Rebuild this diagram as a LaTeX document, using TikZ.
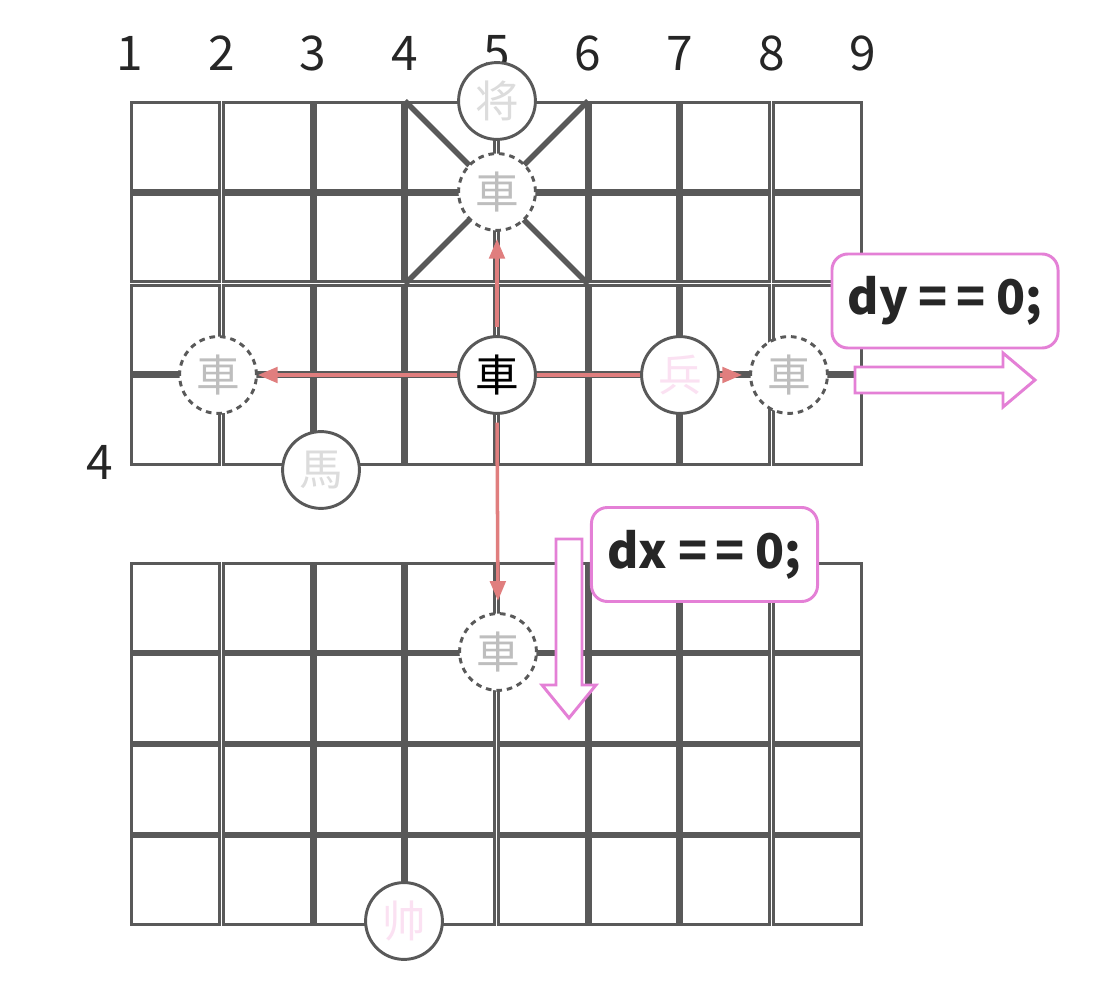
\documentclass[tikz,border=0pt]{standalone}
\usepackage{fontspec}
\setmainfont{Noto Sans CJK SC}
\usetikzlibrary{arrows.meta}
\definecolor{Grid}{HTML}{595959}
\definecolor{Salmon}{HTML}{E07E7E}
\definecolor{Orchid}{HTML}{E480D6}
\definecolor{Ink}{HTML}{262626}
\definecolor{Ghost}{HTML}{BEBEBE}
\definecolor{Faint}{HTML}{DCDCDC}
\definecolor{Blush}{HTML}{FBE1F2}

\begin{document}
\begin{tikzpicture}[x=0.025cm,y=-0.025cm,cell/.style={draw=Grid,fill=white,line width=2.3pt},num/.style={font=\fontsize{34}{38}\selectfont,text=Ink},piece/.style={circle,draw=Grid,fill=white,line width=2.1pt,minimum size=1.92cm,inner sep=0pt,font=\fontsize{31}{34}\selectfont},ghost/.style={piece,dash pattern=on 4pt off 3.5pt,text=Ghost},move/.style={draw=Salmon,line width=2.5pt,-{Triangle[length=14pt,width=11pt]}},note/.style={draw=Orchid,fill=white,line width=2.1pt,rounded corners=0.4cm,minimum width=5.65cm,minimum height=2.35cm,font=\fontsize{34}{38}\selectfont\bfseries,text=Ink},hollow/.style={draw=Orchid,fill=white,line width=2.1pt,line join=miter}]
\useasboundingbox (0,0) rectangle (1120,983);
\fill[white] (0,0) rectangle (1120,983);
\foreach \c in {0,...,7}{\foreach \r in {0,...,3}{\draw[cell] ({130+91.625*\c+1.8},{101+91.25*\r+1.8}) rectangle ({130+91.625*(\c+1)-1.8},{101+91.25*(\r+1)-1.8});\draw[cell] ({130+91.625*\c+1.8},{562+91*\r+1.8}) rectangle ({130+91.625*(\c+1)-1.8},{562+91*(\r+1)-1.8});}}
\draw[Grid,line width=4pt] (405,101) -- (588,284) (588,101) -- (405,284);
\foreach \n in {1,...,9}{\node[num] (col\n) at ({130+91.625*(\n-1)},53){\n};}
\node[num] (row4) at (100,462){4};
\node[piece,text=Faint] (jiang) at (497,101){将};
\node[ghost] (upche) at (497,192){車};
\node[piece,text=black] (che) at (497,375){車};
\node[ghost] (leftche) at (218,375){車};
\node[piece,text=Blush] (bing) at (680,375){兵};
\node[ghost] (rightche) at (789,375){車};
\node[piece,text=Faint] (ma) at (321,470){馬};
\node[ghost] (downche) at (498,652){車};
\node[piece,text=Blush] (shuai) at (404,921){帅};
\draw[move,shorten <=5.5pt,shorten >=5pt] (che.north) -- (upche.south);
\draw[move] (che.west) -- (leftche.east);
\draw[move,-] (che.east) -- (bing.west);
\draw[move,shorten >=5pt] (bing.east) -- (rightche.west);
\draw[move,shorten <=5.5pt,shorten >=8pt] (che.south) -- (downche.north);
\node[note] (dy) at (945,301){dy =\kern6pt= 0;};
\node[note] (dx) at (704.5,554.5){dx =\kern6pt= 0;};
\draw[hollow] (855,367) -- (1003,367) -- (1003,353) -- (1035,380) -- (1003,407) -- (1003,393) -- (855,393) -- cycle;
\draw[hollow] (556,539) -- (582,539) -- (582,685) -- (596,685) -- (569,718) -- (542,685) -- (556,685) -- cycle;
\end{tikzpicture}
\end{document}
